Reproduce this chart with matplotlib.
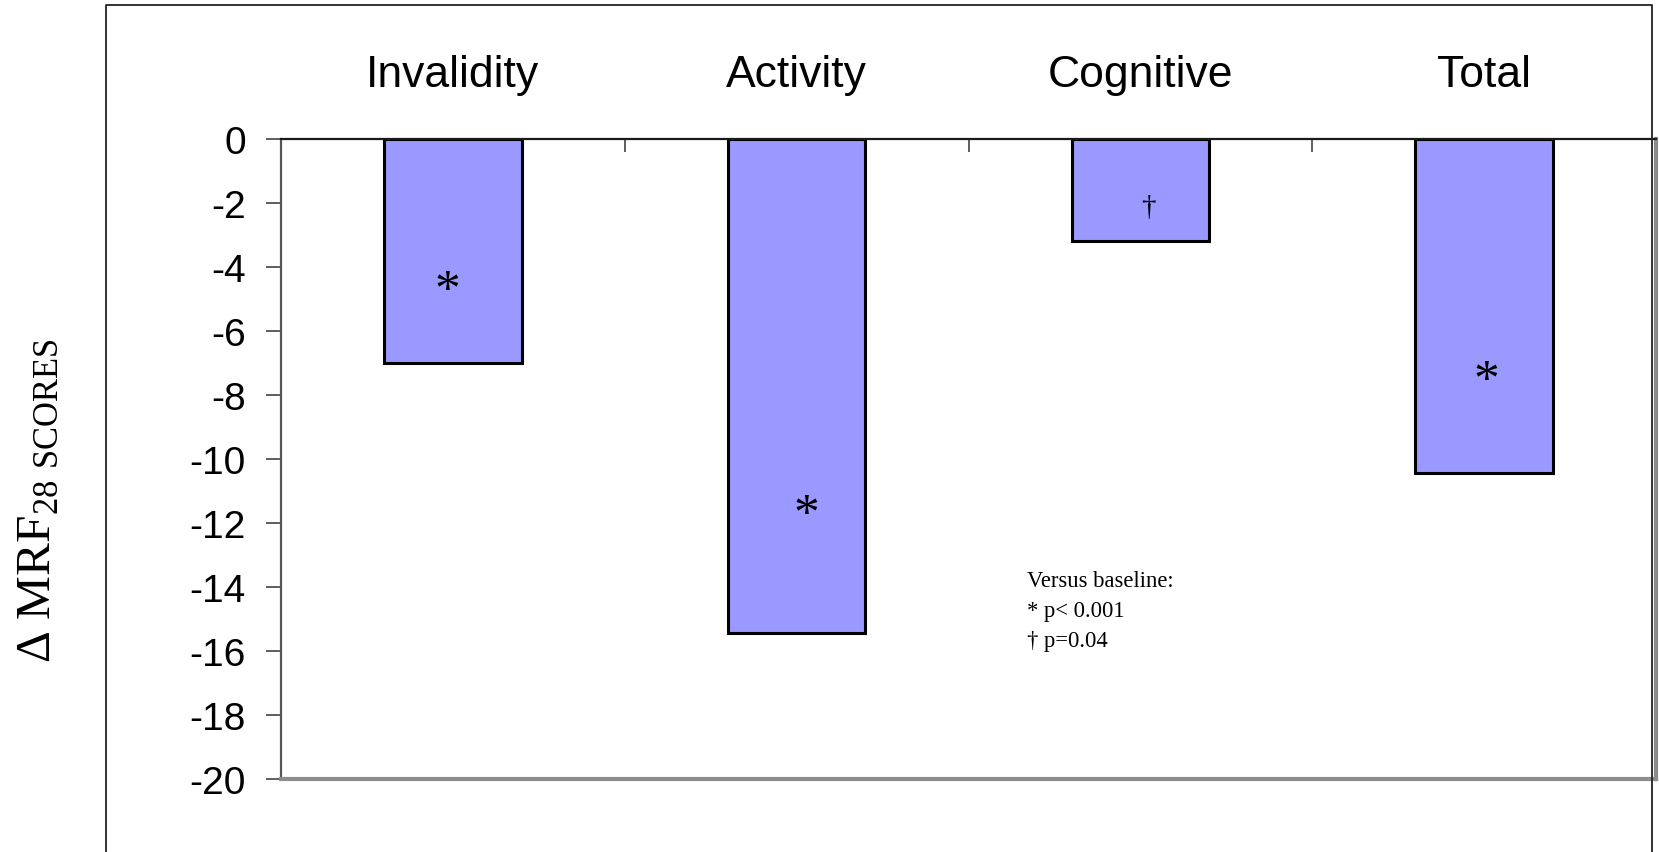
import matplotlib.pyplot as plt
from matplotlib.lines import Line2D

plt.rcParams['font.family'] = 'Liberation Sans'
plt.rcParams['mathtext.fontset'] = 'custom'
plt.rcParams['mathtext.rm'] = 'Liberation Serif'
plt.rcParams['axes.unicode_minus'] = False

categories = ['Invalidity', 'Activity', 'Cognitive', 'Total']
changes = [-7.0, -15.45, -3.2, -10.45]
marks = ['*', '*', '\u2020', '*']
mark_y = [-4.35, -11.35, -2.1, -7.15]
mark_dx = [-0.015, 0.027, 0.023, 0.006]
yticks = list(range(0, -21, -2))

fig = plt.figure(figsize=(16.59, 8.53), dpi=100)
ax = fig.add_axes([281 / 1659, 1 - 780 / 853, (1656 - 281) / 1659, 640 / 853])

x = range(len(categories))
ax.bar(x, changes, width=0.4, color='#9999FF', edgecolor='black', linewidth=2.2, zorder=2)

for i in x:
    if marks[i] == '*':
        ax.annotate('*', xy=(i + mark_dx[i], mark_y[i]), xytext=(0, -18),
                    textcoords='offset points', ha='center', va='baseline',
                    fontsize=37, family='Liberation Serif', zorder=3)
    else:
        ax.annotate(marks[i], xy=(i + mark_dx[i], mark_y[i]), xytext=(0, -5.7),
                    textcoords='offset points', ha='center', va='baseline',
                    fontsize=21, family='Liberation Serif', zorder=3)

ax.set_xlim(-0.5, 3.5)
ax.set_ylim(-20, 0)
ax.set_yticks(yticks)
ax.set_yticklabels([str(v) for v in yticks])
ax.tick_params(axis='y', direction='out', length=10.8, width=1.1, color='#333333',
               labelsize=28, pad=14.5)

ax.xaxis.tick_top()
ax.set_xticks([-0.5, 0.5, 1.5, 2.5, 3.5])
ax.set_xticklabels([])
ax.set_xticks(list(x), minor=True)
ax.set_xticklabels(categories, minor=True)
ax.tick_params(axis='x', which='major', direction='in', length=9.5, width=1.1,
               color='#333333')
ax.tick_params(axis='x', which='minor', length=0, labelsize=32, pad=31.5)

ax.spines['top'].set_color('#1a1a1a')
ax.spines['top'].set_linewidth(1.6)
ax.spines['top'].set_zorder(4)
ax.spines['left'].set_color('#555555')
ax.spines['left'].set_linewidth(1.6)
ax.spines['bottom'].set_color('#8c8c8c')
ax.spines['bottom'].set_linewidth(3)
ax.spines['right'].set_color('#8c8c8c')
ax.spines['right'].set_linewidth(3)

fig.text(39 / 1659, 1 - 501 / 853, '\u0394 MRF$_{\\mathrm{28\\ SCORES}}$', rotation=90,
         ha='center', va='center', fontsize=35.5, family='Liberation Serif')

fig.text(1027 / 1659, 1 - 571 / 853, 'Versus baseline:\n* p< 0.001\n\u2020 p=0.04',
         ha='left', va='top', fontsize=16.3, family='Liberation Serif', linespacing=1.57)

# outer frame (left, top, right)
fx0, fx1, fy = 106 / 1659, 1652 / 1659, 1 - 6 / 853
frame = Line2D([fx0, fx0, fx1, fx1], [0, fy, fy, 0], transform=fig.transFigure,
               color='#222222', linewidth=1.3)
fig.add_artist(frame)

fig.savefig('out.png', dpi=100)
